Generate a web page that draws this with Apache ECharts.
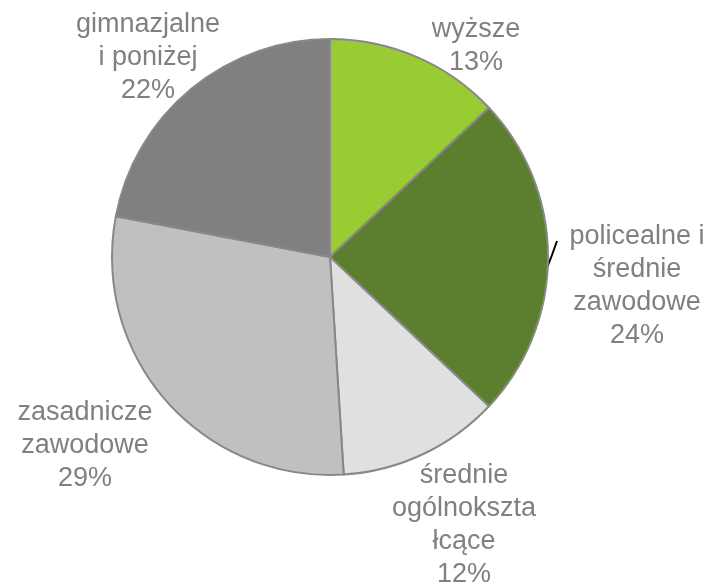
<!DOCTYPE html>
<html>
<head>
<meta charset="utf-8">
<script src="https://cdn.jsdelivr.net/npm/echarts@6/dist/echarts.min.js"></script>
<style>
  html, body { margin: 0; padding: 0; background: #fff; }
  #chart { width: 712px; height: 587px; }
</style>
</head>
<body>
<div id="chart"></div>
<script>
// kategorie wykształcenia (kolejność zgodnie z ruchem wskazówek zegara od góry)
var categories = [
  'wyższe',
  'policealne i\nśrednie\nzawodowe',
  'średnie\nogólnoksztа\nłcące',
  'zasadnicze\nzawodowe',
  'gimnazjalne\ni poniżej'
];
var shares = [13, 24, 12, 29, 22];
var colors = ['#99cc33', '#5b7f2e', '#e0e0e0', '#c0c0c0', '#808080'];

// środki etykiet (px)
var labelPos = [[476, 46], [637, 286], [464, 525], [85, 446], [148, 58]];

var chart = echarts.init(document.getElementById('chart'));

var data = categories.map(function (name, i) {
  return { name: name, value: shares[i], itemStyle: { color: colors[i] } };
});
data[1].labelLine = { show: true };

chart.setOption({
  animation: false,
  series: [{
    type: 'pie',
    center: [330, 257],
    radius: 218,
    startAngle: 90,
    clockwise: true,
    data: data,
    itemStyle: { borderColor: '#888888', borderWidth: 2 },
    label: {
      show: true,
      position: 'outside',
      formatter: '{b}\n{d}%',
      fontFamily: 'Liberation Sans, Arial, sans-serif',
      fontSize: 27,
      lineHeight: 33,
      color: '#808080',
      align: 'center',
      overflow: 'none'
    },
    labelLine: { show: false, lineStyle: { color: '#000', width: 2 } },
    labelLayout: function (p) {
      var pos = labelPos[p.dataIndex];
      var res = { x: pos[0], y: pos[1], align: 'center', verticalAlign: 'middle' };
      if (p.dataIndex === 1) {
        res.labelLinePoints = [[547, 268], [552, 255], [557, 241]];
      }
      return res;
    }
  }]
});
</script>
</body>
</html>
